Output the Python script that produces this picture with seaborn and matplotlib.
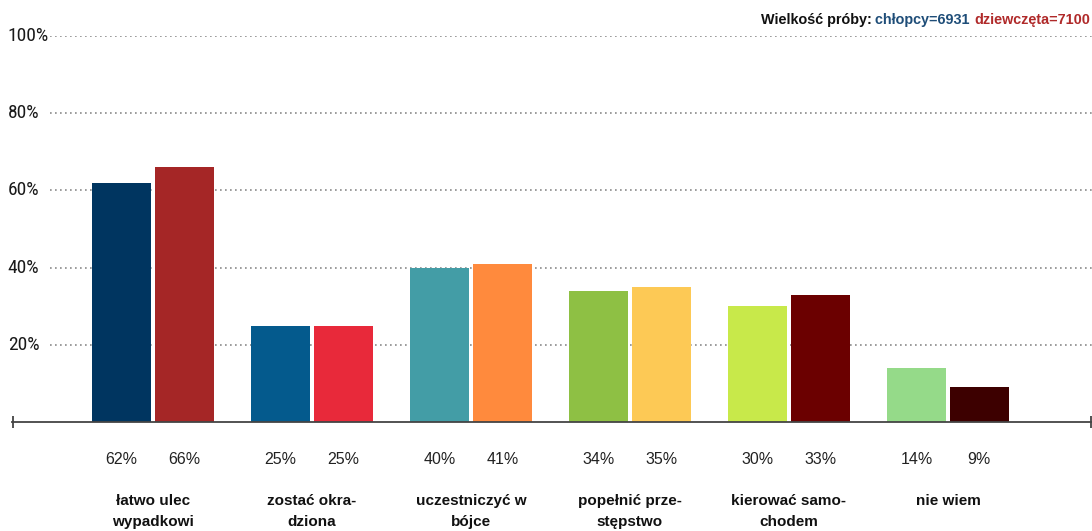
import pandas as pd
import matplotlib
matplotlib.use("Agg")
import matplotlib.pyplot as plt
import seaborn as sns
from matplotlib import font_manager

# === Data
categories = ["łatwo ulec\nwypadkowi", "zostać okra-\ndziona", "uczestniczyć w\nbójce",
              "popełnić prze-\nstępstwo", "kierować samo-\nchodem", "nie wiem"]
boys = [62, 25, 40, 34, 30, 14]
girls = [66, 25, 41, 35, 33, 9]
groups = ["chłopcy", "dziewczęta"]
boy_colors = ["#003560", "#045A8D", "#439DA6", "#8EC044", "#C8E94A", "#95DA89"]
girl_colors = ["#A52626", "#E8293A", "#FF8A3D", "#FDC955", "#6B0000", "#3D0000"]
y_ticks = [20, 40, 60, 80, 100]
y_labels = ["20%", "40%", "60%", "80%", "100%"]

df = pd.DataFrame({
    "kat": categories * 2,
    "plec": [groups[0]] * len(boys) + [groups[1]] * len(girls),
    "val": boys + girls,
})

# condensed font for the y labels, if there is one
names = sorted({f.name for f in font_manager.fontManager.ttflist})
print([n for n in names if "ond" in n or "arrow" in n])
cond = [n for n in ["Roboto Condensed", "DejaVu Sans Condensed", "Liberation Sans Narrow",
                    "Open Sans Condensed"] if n in names]
cond_family = cond[0] if cond else "Liberation Sans"

# === Figure
sns.set_theme(style="white")
plt.rcParams["font.family"] = ["Liberation Sans", "DejaVu Sans"]

fig = plt.figure(figsize=(10.92, 5.31), dpi=100)
ax = fig.add_axes([12 / 1092, 109 / 531, 1080 / 1092, 386 / 531])

sns.barplot(data=df, x="kat", y="val", hue="plec", order=categories, hue_order=groups,
            width=0.79, gap=0.05, legend=False, ax=ax, zorder=3, saturation=1)

for cont, cols in zip(ax.containers, [boy_colors, girl_colors]):
    for bar, c in zip(cont, cols):
        bar.set_facecolor(c)
        bar.set_edgecolor("none")

ax.set_xlim(-0.887, 5.906)
ax.set_ylim(0, 100)
for s in ["top", "right", "left"]:
    ax.spines[s].set_visible(False)
ax.spines["bottom"].set_color("#444444")
ax.spines["bottom"].set_linewidth(1.3)
ax.spines["bottom"].set_zorder(4)

# end caps of the baseline
ax.set_xticks([])
ax.set_xticks([ax.get_xlim()[0] + 0.004, ax.get_xlim()[1] - 0.004], minor=True)
ax.tick_params(axis="x", which="minor", direction="inout", length=8, width=1.3,
               color="#444444", labelbottom=False, bottom=True)
ax.set_xlabel("")
ax.set_ylabel("")

# y labels and dotted gridlines
ax.set_yticks(y_ticks)
ax.set_yticklabels(y_labels, fontsize=14 if cond else 11.5, family=cond_family,
                   color="#1a1a1a")
ax.tick_params(axis="y", length=0, pad=3)
for lab in ax.get_yticklabels():
    lab.set_horizontalalignment("left")
    lab.set_verticalalignment("center")
for y in y_ticks:
    ax.axhline(y, xmin=38 / 1080, xmax=1, ls=(0, (1, 2)), lw=1.2, color="#8a8a8a", zorder=1)

# value labels and category labels under the axis
trans = ax.get_xaxis_transform()
for cont, vals in zip(ax.containers, [boys, girls]):
    for bar, v in zip(cont, vals):
        xc = bar.get_x() + bar.get_width() / 2
        ax.text(xc, -0.096, f"{v}%", transform=trans, ha="center", va="center",
                fontsize=11.5, color="#222222", clip_on=False)
for i, cat in enumerate(categories):
    ax.text(i, -0.186, cat, transform=trans, ha="center", va="top", fontsize=11,
            fontweight="bold", color="#111111", linespacing=1.65, clip_on=False)

# header with sample sizes
hdr = dict(fontsize=10.4, fontweight="bold")
t3 = fig.text(0.998, 1 - 20 / 531, "dziewczęta=7100", ha="right", va="center",
              color="#B02A2A", **hdr)
t2 = ax.annotate("chłopcy=6931 ", xy=(0, 0), xycoords=t3, ha="right", va="bottom",
                 color="#1E4D78", annotation_clip=False, **hdr)
ax.annotate("Wielkość próby: ", xy=(0, 0), xycoords=t2, ha="right", va="bottom",
            color="#111111", annotation_clip=False, **hdr)

fig.savefig("out.png", dpi=100)
